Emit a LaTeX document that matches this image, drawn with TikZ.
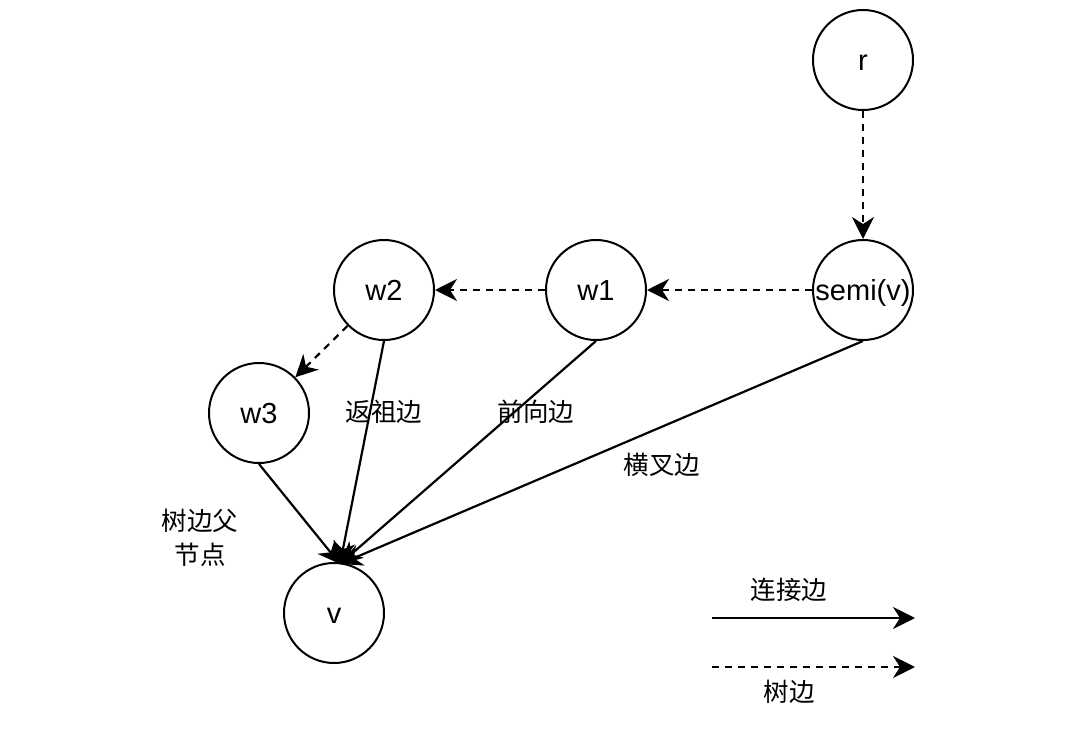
\documentclass[tikz,border=0pt]{standalone}
\usepackage{fontspec}
\setmainfont{Liberation Sans}
\newfontfamily\cjk{Noto Sans CJK SC}
\usetikzlibrary{arrows.meta}
\begin{document}
\begin{tikzpicture}[x=1pt,y=-1pt,
  vert/.style={circle,draw,line width=2pt,minimum size=100pt,inner sep=0pt,text height=20.8pt,text depth=0pt,font=\fontsize{29}{32}\selectfont},
  lab/.style={font=\cjk\fontsize{25.5}{34}\selectfont,align=center},
  tip/.style={-{Stealth[length=22pt,width=22pt,inset=7pt]}},
  conn/.style={tip,line width=2.2pt},
  tree/.style={tip,line width=2.2pt,dash pattern=on 7pt off 6pt}]
\useasboundingbox (0,0) rectangle (1080,752);
\node[vert] (r) at (863,60) {r};
\node[vert] (semi) at (863,290) {semi(v)};
\node[vert] (w1) at (596,290) {w1};
\node[vert] (w2) at (384,290) {w2};
\node[vert] (w3) at (259,413) {w3};
\node[vert] (v) at (334,613) {v};
\coordinate (vt) at (340,564);
\draw[tree] (r) -- (semi);
\draw[tree] (semi) -- (w1);
\draw[tree] (w1) -- (w2);
\draw[tree] (w2) -- (w3);
\draw[conn] (w3.south) -- (vt);
\draw[conn] (w2.south) -- (vt);
\draw[conn] (w1.south) -- (vt);
\draw[conn] (semi.south) -- (vt);
\node[lab] (l1) at (384,412) {返祖边};
\node[lab] (l2) at (536,412) {前向边};
\node[lab] (l3) at (662,465) {横叉边};
\node[lab] (l4) at (200,538) {树边父\\节点};
\coordinate (a1) at (712,618);
\coordinate (a2) at (915,618);
\coordinate (b1) at (712,667);
\coordinate (b2) at (915,667);
\draw[conn] (a1) -- (a2);
\draw[tree] (b1) -- (b2);
\node[lab] (l5) at (789,590) {连接边};
\node[lab] (l6) at (789,692) {树边};
\end{tikzpicture}
\end{document}
